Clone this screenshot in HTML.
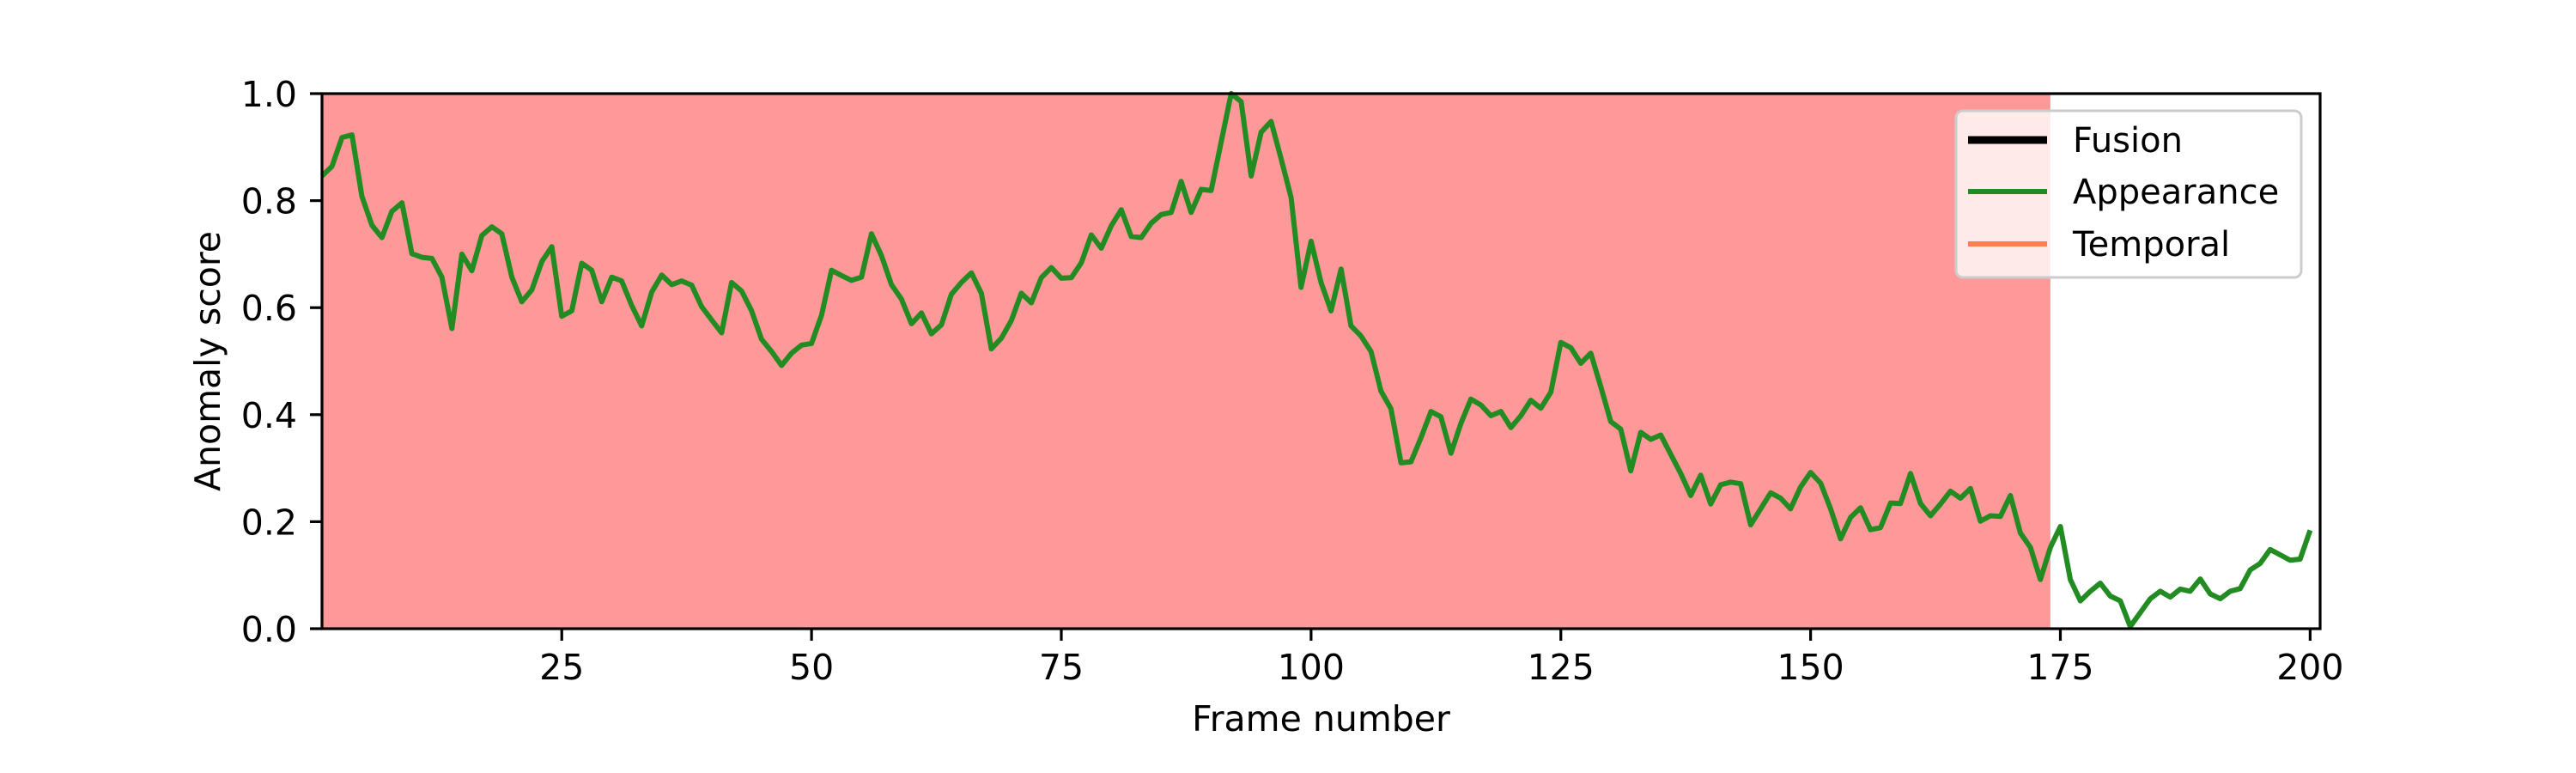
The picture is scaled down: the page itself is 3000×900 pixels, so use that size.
<!DOCTYPE html>
<html><head><meta charset="utf-8"><style>
html,body{margin:0;padding:0;background:#fff}
svg{display:block}
text{font-family:"DejaVu Sans","Liberation Sans",sans-serif;fill:#000}
</style></head><body>
<svg id="chart" width="3000" height="900" viewBox="0 0 3000 900" xmlns="http://www.w3.org/2000/svg">
<g id="spanLayer"></g>
<g id="lineLayer"></g>
<g id="axisLayer"></g>
<g id="legendLayer"></g>
</svg>
<script>
const appearance = [0.846,0.864,0.918,0.923,0.808,0.754,0.731,0.780,0.796,0.701,
0.694,0.692,0.657,0.561,0.700,0.669,0.735,0.751,0.738,0.657,
0.611,0.633,0.686,0.714,0.584,0.594,0.683,0.670,0.611,0.657,
0.650,0.604,0.566,0.629,0.661,0.643,0.650,0.642,0.602,0.577,
0.553,0.647,0.631,0.594,0.541,0.518,0.492,0.515,0.530,0.533,
0.586,0.670,0.660,0.651,0.657,0.738,0.697,0.643,0.616,0.570,
0.590,0.551,0.568,0.625,0.647,0.665,0.627,0.523,0.543,0.576,
0.627,0.609,0.656,0.675,0.655,0.656,0.684,0.736,0.711,0.753,
0.783,0.733,0.731,0.758,0.774,0.778,0.836,0.778,0.821,0.819,
0.910,1.000,0.985,0.846,0.928,0.948,0.878,0.806,0.638,0.724,
0.647,0.594,0.672,0.566,0.547,0.518,0.444,0.411,0.310,0.312,
0.357,0.406,0.396,0.328,0.384,0.429,0.418,0.398,0.406,0.376,
0.398,0.427,0.412,0.442,0.535,0.525,0.496,0.515,0.452,0.387,
0.373,0.295,0.367,0.354,0.362,0.326,0.290,0.249,0.287,0.233,
0.269,0.274,0.271,0.194,0.224,0.254,0.244,0.224,0.265,0.292,
0.272,0.224,0.168,0.208,0.226,0.185,0.189,0.235,0.234,0.290,
0.234,0.211,0.233,0.257,0.244,0.262,0.201,0.211,0.210,0.249,
0.179,0.152,0.092,0.152,0.191,0.092,0.052,0.070,0.085,0.061,
0.052,0.004,0.030,0.056,0.070,0.059,0.074,0.070,0.093,0.065,
0.056,0.070,0.075,0.110,0.122,0.148,0.138,0.128,0.130,0.184];
const anomalySpan = [1, 174];
const xTicks = [25, 50, 75, 100, 125, 150, 175, 200];
const yTicks = [0.0, 0.2, 0.4, 0.6, 0.8, 1.0];
const yTickLabels = ["0.0","0.2","0.4","0.6","0.8","1.0"];
const legendLabels = ["Fusion","Appearance","Temporal"];

const NS="http://www.w3.org/2000/svg";
const L=375,R=2702,T=109,B=732,XMIN=1,XMAX=201;
const FS=41;
function xs(v){return L+(v-XMIN)/(XMAX-XMIN)*(R-L);}
function ys(v){return B-v*(B-T);}
function mk(tag,attrs,parent){const e=document.createElementNS(NS,tag);for(const k in attrs)e.setAttribute(k,attrs[k]);parent.appendChild(e);return e;}

const spanL=document.getElementById('spanLayer');
const sp=mk('rect',{x:xs(anomalySpan[0]),y:T,width:xs(anomalySpan[1])-xs(anomalySpan[0]),height:B-T,fill:'#ff9898'},spanL);



const lineL=document.getElementById('lineLayer');
let d='';
appearance.forEach((v,i)=>{d+=(i?'L':'M')+xs(i+1).toFixed(1)+' '+ys(v).toFixed(1);});
const ln=mk('path',{d:d,fill:'none',stroke:'#228b22','stroke-width':6,'stroke-linejoin':'round'},lineL);



const ax=document.getElementById('axisLayer');
const fr=mk('rect',{x:L,y:T,width:R-L,height:B-T,fill:'none',stroke:'#000','stroke-width':3.2},ax);


xTicks.forEach(t=>{
  const x=xs(t);
  mk('line',{x1:x,y1:B,x2:x,y2:B+14,stroke:'#000','stroke-width':3.2},ax);
  const tx=mk('text',{x:x,y:B+59,'text-anchor':'middle','font-size':FS},ax);
  tx.textContent=String(t);
  
  
});
yTicks.forEach((t,i)=>{
  const y=ys(t);
  mk('line',{x1:L-14,y1:y,x2:L,y2:y,stroke:'#000','stroke-width':3.2},ax);
  const tx=mk('text',{x:L-29,y:y+15,'text-anchor':'end','font-size':FS},ax);
  tx.textContent=yTickLabels[i];
  
  
});
const xt=mk('text',{x:(L+R)/2,y:851,'text-anchor':'middle','font-size':FS},ax);
xt.textContent='Frame number';


const yt=mk('text',{x:0,y:0,'text-anchor':'middle','font-size':FS,transform:'translate(256,'+((T+B)/2)+') rotate(-90)'},ax);
yt.textContent='Anomaly score';



const lg=document.getElementById('legendLayer');
const box=mk('rect',{x:2278,y:129,width:402,height:194,rx:8,fill:'rgba(255,255,255,0.8)',stroke:'#cccccc','stroke-width':3},lg);


const lcol=['#000000','#228b22','#ff7f50'];
const lw=[9,6,6];
const ly=[163,223,284];
legendLabels.forEach((lab,i)=>{
  const l=mk('line',{x1:2292,y1:ly[i],x2:2384,y2:ly[i],stroke:lcol[i],'stroke-width':lw[i]},lg);
  
  
  const t=mk('text',{x:2414,y:ly[i]+14,'font-size':40},lg);
  t.textContent=lab;
  
  
});
</script>
</body></html>
